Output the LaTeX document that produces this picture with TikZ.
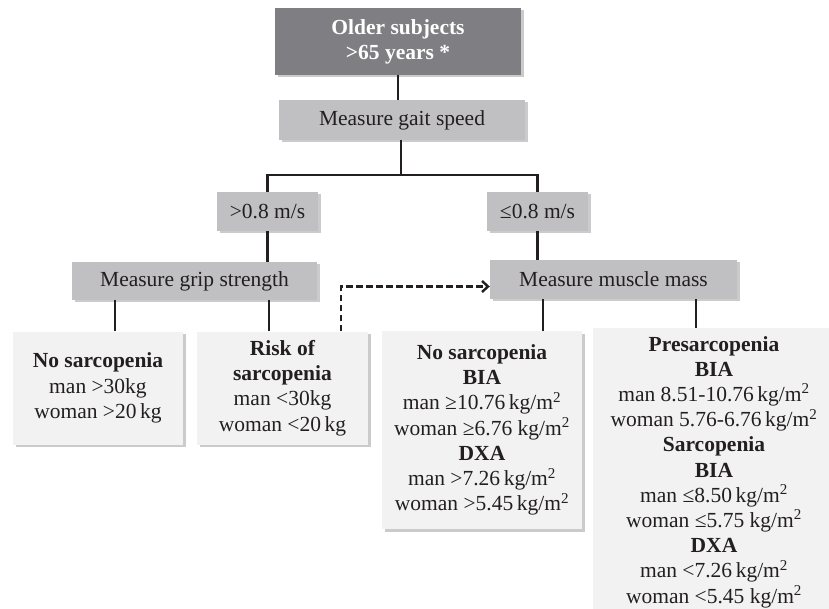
\documentclass[tikz,border=0pt]{standalone}
\usepackage{fontspec}
\setmainfont{Liberation Serif}
\usetikzlibrary{shadows,arrows.meta}
\definecolor{ink}{HTML}{231F20}
\definecolor{darkbox}{HTML}{7F7F83}
\definecolor{midbox}{HTML}{C0C0C3}
\definecolor{lightbox}{HTML}{F1F2F1}
\newcommand{\fsz}{\fontsize{21.5}{25.2}\selectfont}
\tikzset{
  shad/.style={drop shadow={shadow xshift=2.5pt, shadow yshift=-2.5pt, fill=black!45, opacity=.45}},
  topbox/.style={rectangle, fill=darkbox, shad, text=white, font=\fsz\bfseries, align=center, inner sep=0pt},
  graybox/.style={rectangle, fill=midbox, shad, text=ink, font=\fsz, align=center, inner sep=0pt},
  resbox/.style={rectangle, fill=lightbox, shad, text=ink, font=\fsz, align=center, inner sep=0pt},
  txt/.style={text=ink, font=\fsz, align=center, inner sep=0pt},
  conn/.style={draw=ink, line width=2.6pt},
  dconn/.style={draw=ink, line width=2.6pt, dash pattern=on 6.5pt off 3.5pt, -{Straight Barb[length=6pt,width=11pt,line width=2.4pt]}}
}
\begin{document}
\begin{tikzpicture}[x=1pt,y=-1pt]
\useasboundingbox (0,0) rectangle (829,609);
\node[topbox, minimum width=246, minimum height=67] (top) at (398,41.5) {Older subjects\\>65 years *};
\node[graybox, minimum width=246, minimum height=40] (gait) at (402,120) {Measure gait speed};
\node[graybox, minimum width=101, minimum height=39] (fast) at (267.5,211.5) {>0.8 m/s};
\node[graybox, minimum width=101, minimum height=39] (slow) at (537.5,211.5) {≤0.8 m/s};
\node[graybox, minimum width=245, minimum height=38] (grip) at (194.5,281) {Measure grip strength};
\node[graybox, minimum width=247, minimum height=39] (muscle) at (613.5,279.5) {Measure muscle mass};
\node[resbox, minimum width=170, minimum height=113] (nosL) at (98,388) {\textbf{No sarcopenia}\\man >30kg\\woman >20\,kg};
\node[resbox, minimum width=171, minimum height=113] (risk) at (282.5,388) {\textbf{Risk of}\\\textbf{sarcopenia}\\man <30kg\\woman <20\,kg};
\node[resbox, minimum width=200, minimum height=198] (nosR) at (482,430) {\textbf{No sarcopenia}\\\textbf{BIA}\\man ≥10.76\,kg/m\textsuperscript{2}\\woman ≥6.76 kg/m\textsuperscript{2}\\\textbf{DXA}\\man >7.26\,kg/m\textsuperscript{2}\\woman >5.45\,kg/m\textsuperscript{2}};
\node[resbox, minimum width=242, minimum height=290] (pre) at (714,473) {};
\node[txt, anchor=north] (pretext) at (714,336) {\textbf{Presarcopenia}\\\textbf{BIA}\\man 8.51-10.76\,kg/m\textsuperscript{2}\\woman 5.76-6.76\,kg/m\textsuperscript{2}\\\textbf{Sarcopenia}\\\textbf{BIA}\\man ≤8.50\,kg/m\textsuperscript{2}\\woman ≤5.75 kg/m\textsuperscript{2}\\\textbf{DXA}\\man <7.26\,kg/m\textsuperscript{2}\\woman <5.45 kg/m\textsuperscript{2}};
\coordinate (jn) at (401,175);
\draw[conn] (top.south) -- (top.south |- gait.north);
\draw[conn] (gait.south -| jn) -- (jn);
\draw[conn] (fast.north) |- (jn) -| (slow.north);
\draw[conn] (fast.south) -- (fast.south |- grip.north);
\draw[conn] (slow.south) -- (slow.south |- muscle.north);
\draw[conn] ([xshift=17pt]nosL.north) -- ([xshift=17pt]nosL.north |- grip.south);
\draw[conn] ([xshift=-13.5pt]risk.north) -- ([xshift=-13.5pt]risk.north |- grip.south);
\draw[conn] ([xshift=61pt]nosR.north) -- ([xshift=61pt]nosR.north |- muscle.south);
\draw[conn] ([xshift=-18pt]pre.north) -- ([xshift=-18pt]pre.north |- muscle.south);
\draw[dconn] ([xshift=58.5pt]risk.north) |- ([yshift=-7pt]muscle.west);
\end{tikzpicture}
\end{document}
